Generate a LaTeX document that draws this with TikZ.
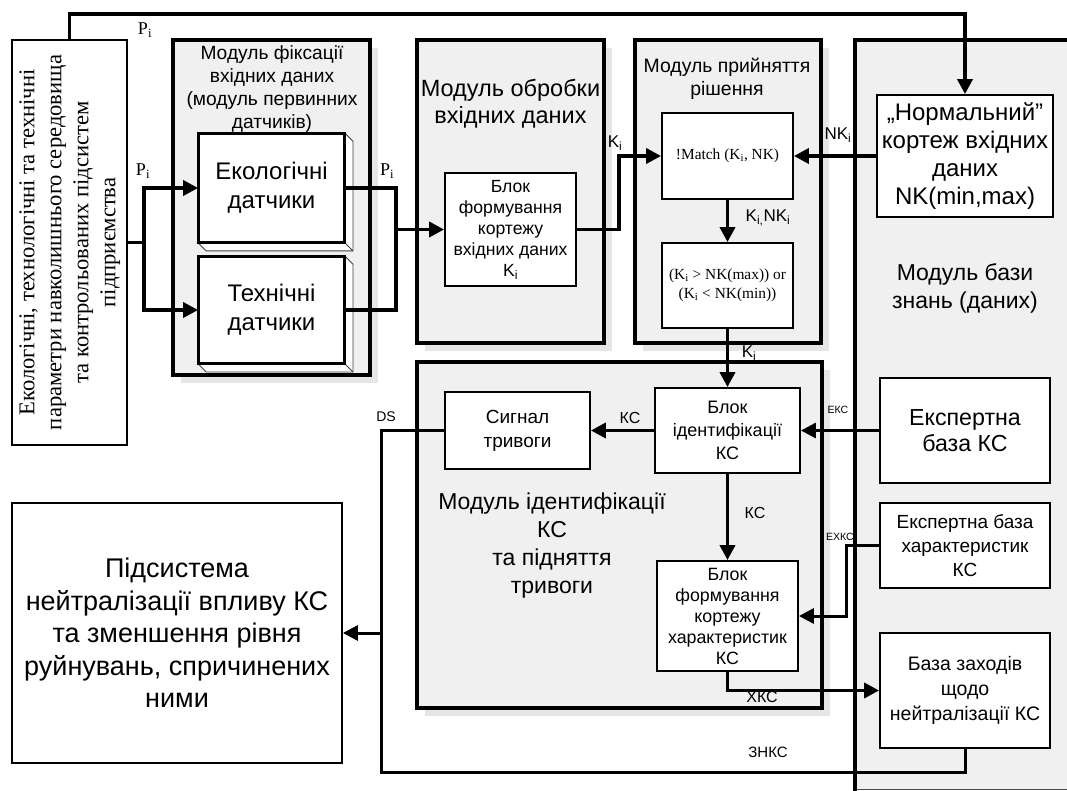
\documentclass[tikz,border=0pt]{standalone}
\usepackage{fontspec}
\setmainfont{Liberation Serif}
\setsansfont{Liberation Sans}
\usepackage{graphicx}
\usetikzlibrary{arrows.meta,calc}
\definecolor{modfill}{HTML}{F0F0F0}
\definecolor{shadowc}{HTML}{E6E6E6}
\newcommand{\myfs}[2]{\fontsize{#1}{#2}\selectfont}
\begin{document}
\begin{tikzpicture}[x=1pt,y=-1pt,font=\sffamily,
  modbox/.style={rectangle,draw=black,line width=3.6pt,fill=modfill,inner sep=0pt,
    preaction={fill=shadowc,draw=none,transform canvas={shift={(8pt,-8pt)}}}},
  ibox/.style={rectangle,draw=black,line width=1.8pt,fill=white,inner sep=0pt,align=center},
  txt/.style={inner sep=0pt,align=center},
  conn/.style={line width=3.6pt},
  tconn/.style={line width=3pt},
  arr/.style={line width=3.6pt,-{Triangle[length=15pt,width=15pt]}},
  tarr/.style={line width=3pt,-{Triangle[length=15pt,width=15pt]}},
  lbl/.style={inner sep=0pt}]
\useasboundingbox (0,0) rectangle (1067,791);
\fill[white] (0,0) rectangle (1067,791);

% knowledge base module
\node[rectangle,fill=modfill,inner sep=0pt,minimum width=225pt,minimum height=749pt] (mod4) at (967.5,414.5) {};
\draw[line width=0.8pt,black!70] (mod4.south west) -- (mod4.south east);
\draw[line width=3.6pt] ([yshift=-5pt]mod4.south west) -- (mod4.north west) -- (mod4.north east);

% modules
\node[modbox,minimum width=197pt,minimum height=335pt] (mod1) at (271.5,207.5) {};
\node[modbox,minimum width=187pt,minimum height=303pt] (mod2) at (510.5,191.5) {};
\node[modbox,minimum width=186pt,minimum height=303pt] (mod3) at (728,191.5) {};
\node[modbox,minimum width=405pt,minimum height=346pt] (mod5) at (619.5,535) {};

% titles
\node[txt,font=\sffamily\myfs{19.2}{23}] (t1) at (272,89) {Модуль фіксації\\вхідних даних\\(модуль первинних\\датчиків)};
\node[txt,font=\sffamily\myfs{23.5}{27}] (t2) at (510.5,103.5) {Модуль обробки\\вхідних даних};
\node[txt,font=\sffamily\myfs{19.4}{23}] (t3) at (727,78.5) {Модуль прийняття\\рішення};
\node[txt,font=\sffamily\myfs{23}{28}] (t4) at (965,288) {Модуль бази\\знань (даних)};
\node[txt,font=\sffamily\myfs{23}{28}] (t5) at (552,545.5) {Модуль ідентифікації\\КС\\та підняття\\тривоги};

% left source box
\node[rectangle,draw=black,line width=1.8pt,fill=white,inner sep=0pt,minimum width=115pt,minimum height=405pt] (src) at (69.5,242.5) {};
\node[txt,font=\rmfamily\myfs{22.6}{27}] (srctxt) at (src.center) {\rotatebox{90}{\begin{tabular}{@{}c@{}}Екологічні, технологічні та технічні\\параметри навколишнього середовища\\та контрольованих підсистем\\підприємства\end{tabular}}};

% sensors
\node[ibox,minimum width=145pt,minimum height=108pt,font=\sffamily\myfs{24}{29}] (eco) at (271.5,188) {Екологічні\\датчики};
\node[ibox,minimum width=145pt,minimum height=106pt,font=\sffamily\myfs{24}{29}] (tech) at (271.5,310) {Технічні\\датчики};
\foreach \b in {eco,tech}{
  \draw[line width=0.8pt,black!75,fill=white] (\b.north east) -- ($(\b.north east)+(8,8)$) -- ($(\b.south east)+(8,8)$) -- ($(\b.south west)+(8,8)$) -- (\b.south west) -- (\b.south east) -- cycle;
  \draw[line width=0.8pt,black!75] (\b.south east) -- ($(\b.south east)+(8,8)$);
  \draw[line width=1.8pt] (\b.north west) rectangle (\b.south east);
}

% processing
\node[ibox,minimum width=131pt,minimum height=113pt,font=\sffamily\myfs{17.6}{21}] (blok1) at (510.5,229.5) {Блок\\формування\\кортежу\\вхідних даних\\K\textsubscript{i}};
\node[ibox,minimum width=131pt,minimum height=86pt,font=\rmfamily\myfs{15.4}{19}] (match) at (727.5,156) {!Match (K\textsubscript{i}, NK)};
\node[ibox,minimum width=131pt,minimum height=85pt,font=\rmfamily\myfs{15.4}{19}] (cond) at (727.5,285.5) {(K\textsubscript{i} > NK(max)) or\\(K\textsubscript{i} < NK(min))};

% knowledge boxes
\node[ibox,minimum width=176pt,minimum height=122pt,font=\sffamily\myfs{24}{28}] (norm) at (965,156) {„Нормальний”\\кортеж вхідних\\даних\\NK(min,max)};
\node[ibox,minimum width=170pt,minimum height=105pt,font=\sffamily\myfs{23.2}{26}] (expert) at (965,430.5) {Експертна\\база КС};
\node[ibox,minimum width=170pt,minimum height=85pt,font=\sffamily\myfs{19}{24}] (expchar) at (965,545.5) {Експертна база\\характеристик\\КС};
\node[ibox,minimum width=170pt,minimum height=115pt,font=\sffamily\myfs{19.5}{25}] (zahody) at (965,690.5) {База заходів\\щодо\\нейтралізації КС};

% identification
\node[ibox,minimum width=145pt,minimum height=85pt,font=\sffamily\myfs{18}{23}] (blokid) at (727.5,430.5) {Блок\\ідентифікації\\КС};
\node[ibox,minimum width=145pt,minimum height=77pt,font=\sffamily\myfs{19}{24}] (signal) at (517.5,430.5) {Сигнал\\тривоги};
\node[ibox,minimum width=141pt,minimum height=110pt,font=\sffamily\myfs{17.8}{21}] (blokchar) at (727.5,616) {Блок\\формування\\кортежу\\характеристик\\КС};

% subsystem
\node[ibox,minimum width=330pt,minimum height=260pt,font=\sffamily\myfs{27}{32.5}] (pidsys) at (177,633) {Підсистема\\нейтралізації впливу КС\\та зменшення рівня\\руйнувань, спричинених\\ними};

% connectors
\draw[arr] (src.north) -- ++(0,-25) -| (norm.north);
\coordinate (fork) at ([xshift=16pt]src.east);
\draw[arr] (src.east) -- (fork) |- (eco.west);
\draw[arr] (fork) |- (tech.west);
\coordinate (join) at ([xshift=51pt]eco.east |- blok1.west);
\draw[conn] (eco.east) -| (join);
\draw[conn] (tech.east) -| (join);
\draw[arr] (join) -- (blok1.west);
\draw[arr] (blok1.east) -- ++(42,0) |- (match.west);
\draw[arr] (match.south) -- (cond.north);
\draw[arr] (norm.west) -- (match.east);
\draw[arr] (cond.south) -- (blokid.north);
\draw[arr] (blokid.west) -- (signal.east);
\draw[arr] (blokid.south) -- (blokchar.north);
\draw[tarr] (expert.west) -- (blokid.east);
\draw[tarr] (expchar.west) -- ++(-33,0) |- (blokchar.east);
\draw[arr] (blokchar.south) |- (zahody.west);
\coordinate (merge) at ([xshift=39pt]pidsys.east);
\draw[tconn] (signal.west) -| (merge);
\draw[tconn] (zahody.south) -- ++(0,24) -| (merge);
\draw[tarr] (merge) -- (pidsys.east);

% labels
\node[lbl,font=\rmfamily\myfs{18}{20}] (lp1) at (145,30) {P\textsubscript{i}};
\node[lbl,font=\rmfamily\myfs{18}{20}] (lp2) at (143,171) {P\textsubscript{i}};
\node[lbl,font=\rmfamily\myfs{18}{20}] (lp3) at (387,171) {P\textsubscript{i}};
\node[lbl,font=\sffamily\myfs{17}{20}] (lk1) at (615,143) {K\textsubscript{i}};
\node[lbl,font=\sffamily\myfs{17}{20}] (lnk) at (838,135) {NK\textsubscript{i}};
\node[lbl,font=\sffamily\myfs{17}{20}] (lknk) at (768,218) {K\textsubscript{i,}NK\textsubscript{i}};
\node[lbl,font=\sffamily\myfs{17}{20}] (lk2) at (749,353) {K\textsubscript{i}};
\node[lbl,font=\sffamily\myfs{16}{18}] (lks1) at (630,418) {КС};
\node[lbl,font=\sffamily\myfs{16}{18}] (lks2) at (755,513) {КС};
\node[lbl,font=\sffamily\myfs{10.5}{12}] (leks) at (838,410) {ЕКС};
\node[lbl,font=\sffamily\myfs{10.5}{12}] (lehks) at (840,537) {ЕХКС};
\node[lbl,font=\sffamily\myfs{16}{18}] (lhks) at (762,697) {ХКС};
\node[lbl,font=\sffamily\myfs{15}{17}] (lznks) at (768,752) {ЗНКС};
\node[lbl,font=\sffamily\myfs{14}{16}] (lds) at (386,417) {DS};
\end{tikzpicture}
\end{document}
